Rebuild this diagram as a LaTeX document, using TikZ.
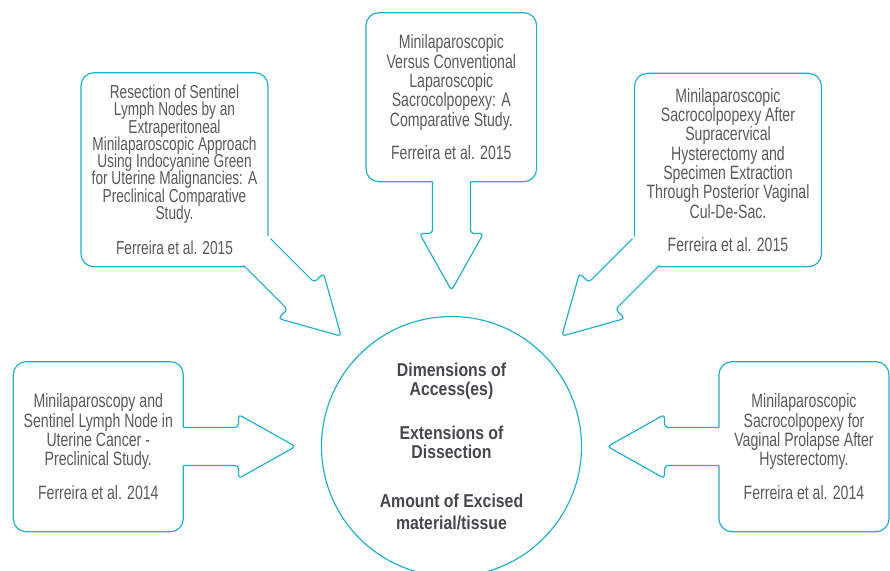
\documentclass[tikz,border=0pt]{standalone}
\usepackage{fontspec}
\setmainfont{Liberation Sans}[FakeStretch=0.73]
\newfontfamily\hubfont{Liberation Sans}[FakeStretch=0.85]

\definecolor{CalloutCyan}{RGB}{30,176,202}
\definecolor{CalloutText}{RGB}{90,90,92}
\definecolor{HubText}{RGB}{70,70,76}

\begin{document}
\begin{tikzpicture}[x=0.03cm,y=-0.03cm,
  paperbox/.style={draw=CalloutCyan,line width=1pt,fill=white,rounded corners=11pt,
    align=center,text=CalloutText,inner sep=0pt,
    font={\fontsize{16.5}{16.5}\selectfont\lineskiplimit=-\maxdimen}},
  hubcircle/.style={circle,draw=CalloutCyan,line width=1pt,minimum size=7.8cm,inner sep=0pt,
    align=center,text=HubText,
    font={\hubfont\bfseries\fontsize{15.9}{15.8}\selectfont\lineskiplimit=-\maxdimen}}]
  \useasboundingbox (0,0) rectangle (890,571);
  % Block arrow turned by #1 about the hub centre; its shaft leaves the box at distance #2.
  \newcommand{\hubarrow}[2]{%
    \begin{scope}[shift={(hub.center)},rotate=#1]
      \fill[white] ({#2+5},19) -- (213,19) -- (213,32) -- (156,0)
        -- (213,-32) -- (213,-19) -- ({#2+5},-19) -- cycle;
      \draw[CalloutCyan,line width=1pt,rounded corners=3pt]
        (#2,19) -- (213,19) -- (213,32) -- (156,0) -- (213,-32) -- (213,-19) -- (#2,-19);
    \end{scope}}

  \node[hubcircle] (hub) at (451.5,446.5)
    {Dimensions of\\Access(es)\\[22pt]Extensions of\\Dissection\\[26pt]Amount of Excised\\[3pt]material/tissue};

  \node[paperbox,minimum width=5.61cm,minimum height=5.82cm,
    font={\fontsize{16}{14.7}\selectfont\lineskiplimit=-\maxdimen}]
    (resection) at (174.5,169.7)
    {Resection of Sentinel\\Lymph Nodes by an\\Extraperitoneal\\Minilaparoscopic Approach\\
     Using Indocyanine Green\\for Uterine Malignancies: A\\Preclinical Comparative\\Study.\\[15pt]
     Ferreira et al. 2015};
  \node[paperbox,minimum width=5.12cm,minimum height=5.07cm] (versus) at (451.3,97.2)
    {Minilaparoscopic\\Versus Conventional\\Laparoscopic\\Sacrocolpopexy: A\\Comparative Study.\\[12pt]
     Ferreira et al. 2015};
  \node[paperbox,minimum width=5.61cm,minimum height=5.80cm] (supracervical) at (728,170)
    {Minilaparoscopic\\Sacrocolpopexy After\\Supracervical\\Hysterectomy and\\Specimen Extraction\\
     Through Posterior Vaginal\\Cul-De-Sac.\\[12pt]Ferreira et al. 2015};
  \node[paperbox,minimum width=5.10cm,minimum height=5.10cm] (sentinel) at (98.3,446.7)
    {Minilaparoscopy and\\Sentinel Lymph Node in\\Uterine Cancer -\\Preclinical Study.\\[12pt]
     Ferreira et al. 2014};
  \node[paperbox,minimum width=5.10cm,minimum height=5.10cm] (prolapse) at (804,446.7)
    {Minilaparoscopic\\Sacrocolpopexy for\\Vaginal Prolapse After\\Hysterectomy.\\[12pt]
     Ferreira et al. 2014};

  \hubarrow{135}{275}
  \hubarrow{90}{264.8}
  \hubarrow{45}{275}
  \hubarrow{180}{268.2}
  \hubarrow{0}{267.5}
\end{tikzpicture}
\end{document}
